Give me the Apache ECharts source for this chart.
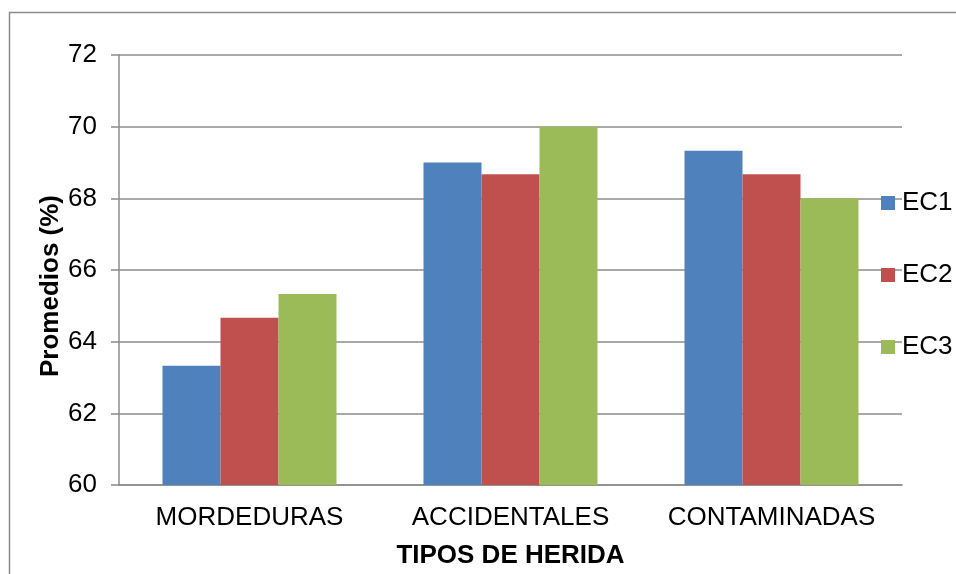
<!DOCTYPE html>
<html>
<head>
<meta charset="utf-8">
<script src="https://cdn.jsdelivr.net/npm/echarts@6/dist/echarts.min.js"></script>
<style>
  html, body { margin: 0; padding: 0; background: #ffffff; }
  #chart { width: 956px; height: 574px; }
</style>
</head>
<body>
<div id="chart"></div>
<script>
// Wound types on the category axis
const categories = ['MORDEDURAS', 'ACCIDENTALES', 'CONTAMINADAS'];

// Average percentages per evaluation
const ec1 = [63.33, 69.0, 69.33];
const ec2 = [64.67, 68.67, 68.67];
const ec3 = [65.33, 70.0, 68.0];

const seriesNames = ['EC1', 'EC2', 'EC3'];
const seriesColors = ['#4F81BD', '#C0504D', '#9BBB59'];

const font = 'Arial, "Liberation Sans", sans-serif';
const gridColor = '#8c8c8c';

const chart = echarts.init(document.getElementById('chart'), null, { renderer: 'canvas' });

chart.setOption({
  animation: false,
  backgroundColor: '#ffffff',
  graphic: [{
    type: 'rect',
    shape: { x: 9.5, y: 12.5, width: 1200, height: 1200 },
    style: { fill: 'none', stroke: '#8c8c8c', lineWidth: 1.5 },
    silent: true,
    z: -10
  }],
  grid: { left: 119, right: 54, top: 55, bottom: 88, containLabel: false },
  legend: {
    orient: 'vertical',
    left: 881,
    top: 190,
    padding: 0,
    icon: 'rect',
    itemWidth: 14,
    itemHeight: 14,
    itemGap: 46,
    textStyle: { fontFamily: font, fontSize: 26, lineHeight: 26, color: '#000000', padding: [0, 0, 0, 2] },
    data: seriesNames
  },
  xAxis: {
    type: 'category',
    data: categories,
    name: 'TIPOS DE HERIDA',
    nameLocation: 'middle',
    nameGap: 58,
    nameTextStyle: { fontFamily: font, fontSize: 26, fontWeight: 'bold', color: '#000000' },
    axisLine: { show: true, lineStyle: { color: gridColor, width: 1.5 } },
    axisTick: { show: false },
    axisLabel: { fontFamily: font, fontSize: 26, color: '#000000', margin: 20, interval: 0, hideOverlap: false },
    splitLine: { show: false }
  },
  yAxis: {
    type: 'value',
    min: 60,
    max: 72,
    interval: 2,
    name: 'Promedios (%)',
    nameLocation: 'middle',
    nameGap: 55,
    nameMoveOverlap: false,
    nameRotate: 90,
    nameTextStyle: { fontFamily: font, fontSize: 26, fontWeight: 'bold', color: '#000000', padding: [0, 32, 0, 0] },
    axisLine: { show: true, lineStyle: { color: gridColor, width: 1.5 } },
    axisTick: { show: true, inside: false, length: 8, lineStyle: { color: gridColor, width: 1.5 } },
    axisLabel: { fontFamily: font, fontSize: 26, color: '#000000', margin: 22 },
    splitLine: { show: true, lineStyle: { color: gridColor, width: 1.5 } }
  },
  series: seriesNames.map((name, i) => ({
    name: name,
    type: 'bar',
    data: [ec1, ec2, ec3][i],
    barWidth: 58,
    barGap: '0%',
    itemStyle: { color: seriesColors[i] }
  }))
});
</script>
</body>
</html>
